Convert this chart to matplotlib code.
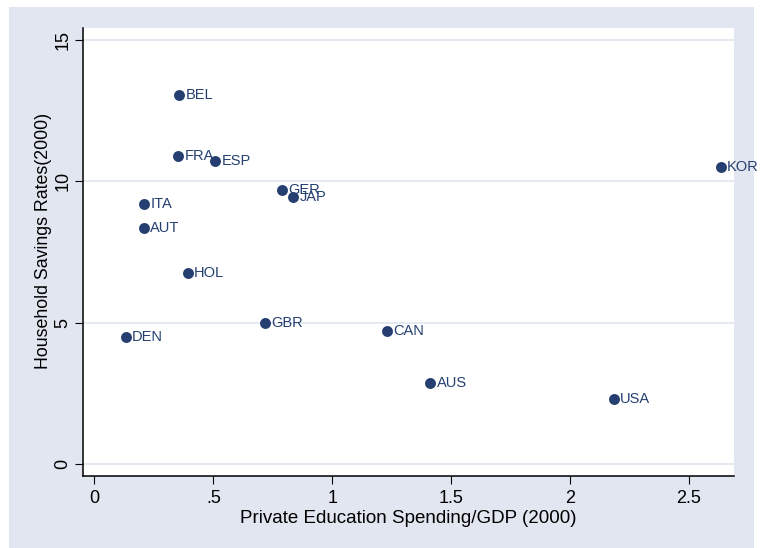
import matplotlib
matplotlib.use("Agg")
import matplotlib.pyplot as plt
from matplotlib.patches import Rectangle

plt.rcParams['font.family'] = ['Liberation Sans', 'DejaVu Sans']

# private education spending / GDP and household savings rates, 2000
countries = ['BEL', 'FRA', 'ESP', 'GER', 'JAP', 'ITA', 'AUT', 'HOL',
             'DEN', 'GBR', 'KOR', 'CAN', 'AUS', 'USA']
edu_spend = [0.356, 0.353, 0.507, 0.789, 0.837, 0.209, 0.209, 0.393,
             0.132, 0.718, 2.633, 1.229, 1.412, 2.183]
savings = [13.06, 10.88, 10.71, 9.70, 9.46, 9.19, 8.35, 6.77,
           4.50, 5.00, 10.49, 4.69, 2.88, 2.29]

x_ticks = [0, 0.5, 1, 1.5, 2, 2.5]
x_ticklabels = ['0', '.5', '1', '1.5', '2', '2.5']
y_ticks = [0, 5, 10, 15]
y_ticklabels = ['0', '5', '10', '15']

navy = '#243f70'
bg = '#e1e6f0'

fig = plt.figure(figsize=(7.61, 5.48), dpi=100)
fig.patch.set_facecolor('white')
fig.patches.append(Rectangle((9 / 761, 0), 745 / 761, 541 / 548,
                             transform=fig.transFigure, facecolor=bg,
                             edgecolor='none', zorder=-10))

ax = fig.add_axes([83 / 761, 72 / 548, 651 / 761, 448 / 548])
ax.set_facecolor('white')

for yv in y_ticks:
    ax.axhline(yv, color='#e3e8f1', linewidth=1.3, zorder=1)

ax.scatter(edu_spend, savings, s=62, color=navy, zorder=3, linewidths=0)
for name, xv, yv in zip(countries, edu_spend, savings):
    ax.annotate(name, (xv, yv), xytext=(4.5, 0), textcoords='offset points',
                va='center', ha='left', fontsize=10.5, color=navy,
                annotation_clip=False, zorder=4)

ax.set_xlim(-0.048, 2.689)
ax.set_ylim(-0.42, 15.42)
ax.set_xticks(x_ticks)
ax.set_xticklabels(x_ticklabels)
ax.set_yticks(y_ticks)
ax.set_yticklabels(y_ticklabels, rotation=90, va='center')

for side in ['top', 'right']:
    ax.spines[side].set_visible(False)
for side in ['left', 'bottom']:
    ax.spines[side].set_linewidth(1.1)
    ax.spines[side].set_color('black')

ax.tick_params(axis='x', length=6, width=0.8, labelsize=13, pad=4)
ax.tick_params(axis='y', length=5.5, width=0.8, labelsize=13, pad=3)

ax.set_xlabel('Private Education Spending/GDP (2000)', fontsize=13.5, labelpad=2)
ax.set_ylabel('Household Savings Rates(2000)', fontsize=12.8)
ax.yaxis.set_label_coords(-0.047, 0.525)

fig.savefig('out.png', dpi=100, facecolor=fig.get_facecolor())
